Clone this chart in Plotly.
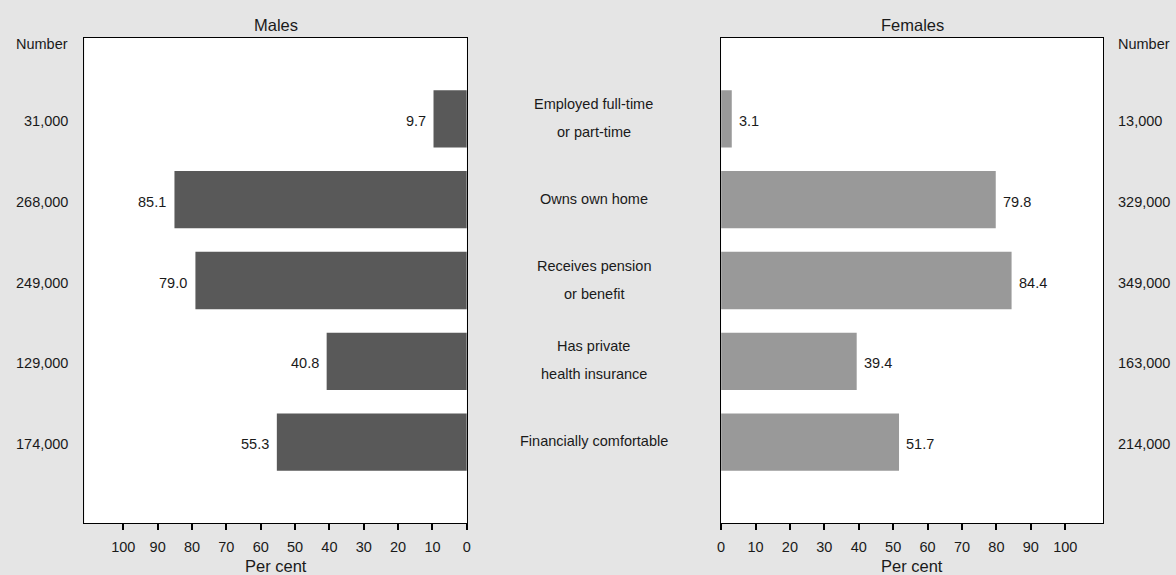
import plotly.graph_objects as go

categories = [
    ["Employed full-time", "or part-time"],
    ["Owns own home"],
    ["Receives pension", "or benefit"],
    ["Has private", "health insurance"],
    ["Financially comfortable"],
]
males_pct = [9.7, 85.1, 79.0, 40.8, 55.3]
females_pct = [3.1, 79.8, 84.4, 39.4, 51.7]
males_num = ["31,000", "268,000", "249,000", "129,000", "174,000"]
females_num = ["13,000", "329,000", "349,000", "163,000", "214,000"]
tick_vals = [0, 10, 20, 30, 40, 50, 60, 70, 80, 90, 100]

W, H = 1176, 575
FONT = "Liberation Sans, Arial, Helvetica, sans-serif"
TXT = "#1a1a1a"
FS = 14.5
FT = 16.5

pos = list(range(len(categories)))

fig = go.Figure()
fig.add_trace(go.Bar(x=males_pct, y=pos, orientation="h", marker_color="#595959",
                     marker_line_width=0, width=0.71, xaxis="x", yaxis="y", hoverinfo="x"))
fig.add_trace(go.Bar(x=females_pct, y=pos, orientation="h", marker_color="#999999",
                     marker_line_width=0, width=0.71, xaxis="x2", yaxis="y2", hoverinfo="x"))

xl0, xl1 = 81 / W, 466 / W
xr0, xr1 = 722 / W, 1107 / W
yd0, yd1 = 1 - 523 / H, 1 - 38 / H

axis_common = dict(
    tickvals=tick_vals, ticks="outside", ticklen=6, tickwidth=1.5, tickcolor="black",
    showline=True, linecolor="black", linewidth=1, mirror=True, showgrid=False,
    zeroline=False, tickfont=dict(size=FS, color=TXT, family=FONT), fixedrange=True,
    ticklabelstandoff=5,
)
yaxis_common = dict(range=[5, -1], showticklabels=False, showgrid=False, zeroline=False,
                    showline=True, linecolor="black", linewidth=1, mirror=True, ticks="",
                    fixedrange=True)

fig.update_layout(
    width=W, height=H, margin=dict(l=0, r=0, t=0, b=0),
    paper_bgcolor="#e5e5e5", plot_bgcolor="white", showlegend=False,
    font=dict(family=FONT, size=FS, color=TXT),
    xaxis=dict(domain=[xl0, xl1], range=[111.3, 0], anchor="y", **axis_common),
    xaxis2=dict(domain=[xr0, xr1], range=[0, 111.1], anchor="y2", **axis_common),
    yaxis=dict(domain=[yd0, yd1], anchor="x", **yaxis_common),
    yaxis2=dict(domain=[yd0, yd1], anchor="x2", **yaxis_common),
)

ann = []
def A(size=FS, **kw):
    base = dict(showarrow=False, font=dict(size=size, color=TXT, family=FONT))
    base.update(kw)
    ann.append(base)

# titles
A(size=FT, text="Males", x=(xl0 + xl1) / 2, y=1 - 25 / H, xref="paper", yref="paper", xanchor="center", yanchor="middle")
A(size=FT, text="Females", x=(xr0 + xr1) / 2, y=1 - 25 / H, xref="paper", yref="paper", xanchor="center", yanchor="middle")
A(size=FT, text="Per cent", x=(xl0 + xl1) / 2, y=1 - 566 / H, xref="paper", yref="paper", xanchor="center", yanchor="middle")
A(size=FT, text="Per cent", x=(xr0 + xr1) / 2, y=1 - 566 / H, xref="paper", yref="paper", xanchor="center", yanchor="middle")
A(text="Number", x=66 / W, y=1 - 44 / H, xref="paper", yref="paper", xanchor="right", yanchor="middle")
A(text="Number", x=1120 / W, y=1 - 44 / H, xref="paper", yref="paper", xanchor="left", yanchor="middle")

mid = (466 + 722) / 2 / W
for i, lines in enumerate(categories):
    n = len(lines)
    for j, line in enumerate(lines):
        off = (n - 1) / 2 * 28 - j * 28 + 1
        A(text=line, x=mid, y=i, xref="paper", yref="y", xanchor="center", yanchor="middle", yshift=off)
    A(text=males_num[i], x=66 / W, y=i, xref="paper", yref="y", xanchor="right", yanchor="middle", yshift=-2)
    A(text=females_num[i], x=1120 / W, y=i, xref="paper", yref="y", xanchor="left", yanchor="middle", yshift=-2)
    A(text=f"{males_pct[i]:.1f}", x=males_pct[i], y=i, xref="x", yref="y", xanchor="right", yanchor="middle", xshift=-6, yshift=-2)
    A(text=f"{females_pct[i]:.1f}", x=females_pct[i], y=i, xref="x2", yref="y2", xanchor="left", yanchor="middle", xshift=5, yshift=-2)

fig.update_layout(annotations=ann)
fig.write_html("out.html")
